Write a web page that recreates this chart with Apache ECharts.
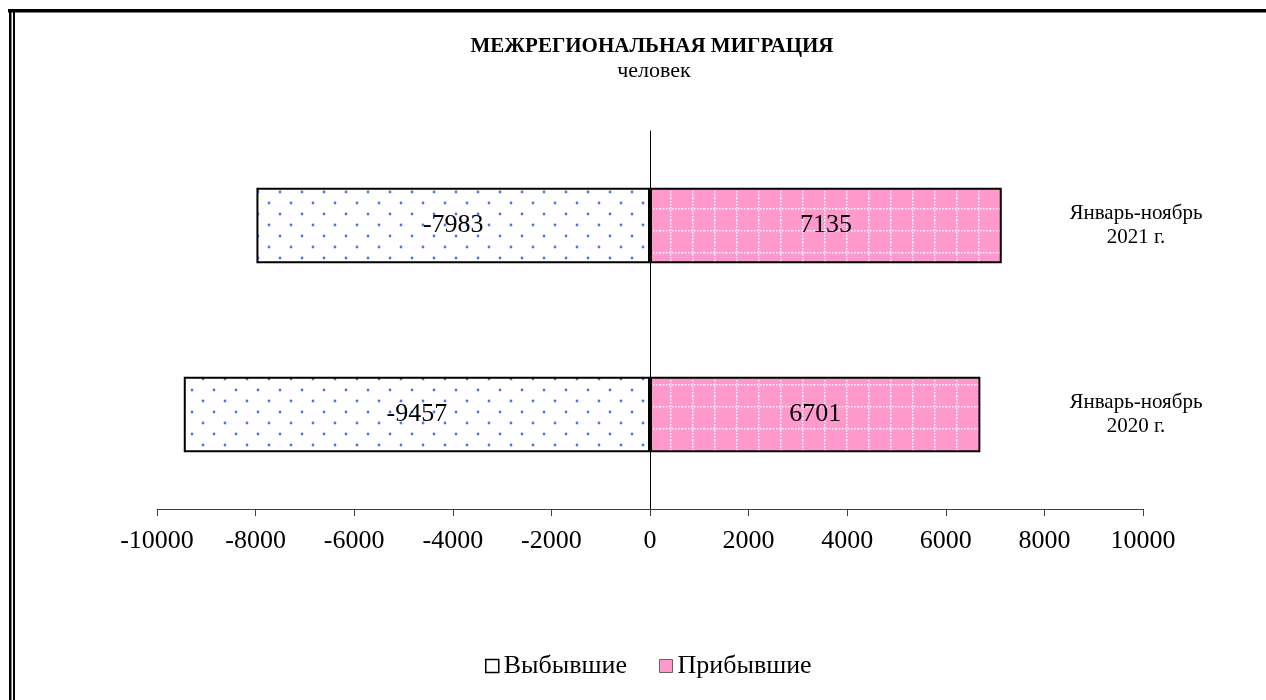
<!DOCTYPE html>
<html>
<head>
<meta charset="utf-8">
<script src="https://cdn.jsdelivr.net/npm/echarts@6/dist/echarts.min.js"></script>
<style>
  html, body { margin: 0; padding: 0; background: #fff; }
  #chart { width: 1266px; height: 700px; }
</style>
</head>
<body>
<div id="chart"></div>
<script>
// категории снизу вверх (ось категорий в ECharts идёт от нижнего края)
const categories = ["Январь-ноябрь\n2020 г.", "Январь-ноябрь\n2021 г."];
const departed = [-9457, -7983];
const arrived = [6701, 7135];

const serif = "'Liberation Serif', 'Times New Roman', serif";

// заливка «Выбывшие»: белый фон с синими точками в шахматном порядке
function dotPattern() {
  const c = document.createElement("canvas");
  c.width = 22;
  c.height = 22;
  const ctx = c.getContext("2d");
  ctx.fillStyle = "#fff";
  ctx.fillRect(0, 0, 22, 22);
  ctx.fillStyle = "#4477f2";
  [[5, 5], [16, 16]].forEach(([x, y]) => {
    ctx.beginPath();
    ctx.arc(x, y, 1.4, 0, Math.PI * 2);
    ctx.fill();
  });
  return c;
}

// заливка «Прибывшие»: розовый фон с белой пунктирной сеткой
function gridPattern() {
  const c = document.createElement("canvas");
  c.width = 22;
  c.height = 22;
  const ctx = c.getContext("2d");
  ctx.fillStyle = "#ff99cc";
  ctx.fillRect(0, 0, 22, 22);
  ctx.fillStyle = "rgba(255,255,255,0.9)";
  for (let i = 0; i < 22; i += 3) {
    ctx.fillRect(10, i, 1.5, 1.5);
    ctx.fillRect(i, 10, 1.5, 1.5);
  }
  return c;
}

const chart = echarts.init(document.getElementById("chart"));

const option = {
  backgroundColor: "#fff",
  animation: false,
  title: [
    {
      text: "МЕЖРЕГИОНАЛЬНАЯ МИГРАЦИЯ",
      left: 647,
      top: 31,
      textAlign: "center",
      textStyle: { fontFamily: serif, fontSize: 21, fontWeight: "bold", color: "#000" },
    },
    {
      text: "человек",
      left: 649,
      top: 55,
      textAlign: "center",
      textStyle: { fontFamily: serif, fontSize: 22, fontWeight: "normal", color: "#000" },
    },
  ],
  grid: {
    left: 157,
    right: 123,
    top: 131,
    bottom: 191,
    containLabel: false,
  },
  legend: {
    top: 648,
    left: 480,
    itemWidth: 13,
    itemHeight: 13,
    itemGap: 32,
    textStyle: { fontFamily: serif, fontSize: 26, color: "#000" },
    data: [
      { name: "Выбывшие", icon: "rect", itemStyle: { color: "#fff", borderColor: "#000", borderWidth: 1.5 } },
      { name: "Прибывшие", icon: "rect", itemStyle: { color: "#ff99cc", borderColor: "#666", borderWidth: 1 } },
    ],
  },
  xAxis: {
    type: "value",
    min: -10000,
    max: 10000,
    interval: 2000,
    axisLine: { show: true, onZero: false, lineStyle: { color: "#404040", width: 1 } },
    axisTick: { show: true, length: 7, lineStyle: { color: "#404040" } },
    axisLabel: {
      fontFamily: serif,
      fontSize: 26,
      color: "#000",
      margin: 19,
      formatter: (v) => String(v),
    },
    splitLine: { show: false },
  },
  yAxis: [
    {
      type: "category",
      data: categories,
      axisLine: { show: true, onZero: true, lineStyle: { color: "#000", width: 1 } },
      axisTick: { show: false },
      axisLabel: { show: false },
    },
    {
      type: "category",
      position: "right",
      data: categories,
      axisLine: { show: false },
      axisTick: { show: false },
      axisLabel: {
        fontFamily: serif,
        fontSize: 21,
        lineHeight: 24,
        color: "#000",
        align: "center",
        margin: -7,
      },
    },
  ],
  series: [
    {
      name: "Выбывшие",
      type: "bar",
      stack: "total",
      data: departed,
      barCategoryGap: "60%",
      itemStyle: {
        color: { image: dotPattern(), repeat: "repeat" },
        borderColor: "#000",
        borderWidth: 2,
      },
      label: {
        show: true,
        position: "inside",
        fontFamily: serif,
        fontSize: 26,
        color: "#000",
      },
    },
    {
      name: "Прибывшие",
      type: "bar",
      stack: "total",
      data: arrived,
      barCategoryGap: "60%",
      itemStyle: {
        color: { image: gridPattern(), repeat: "repeat" },
        borderColor: "#000",
        borderWidth: 2,
      },
      label: {
        show: true,
        position: "inside",
        fontFamily: serif,
        fontSize: 26,
        color: "#000",
      },
    },
  ],
  // двойная рамка слева и жирная линия сверху
  graphic: [
    { type: "rect", shape: { x: 8, y: 9, width: 1258, height: 3.5 }, style: { fill: "#000" } },
    { type: "rect", shape: { x: 9, y: 9, width: 2.5, height: 691 }, style: { fill: "#000" } },
    { type: "rect", shape: { x: 13, y: 12, width: 2, height: 688 }, style: { fill: "#000" } },
  ],
};

chart.setOption(option);
</script>
</body>
</html>
